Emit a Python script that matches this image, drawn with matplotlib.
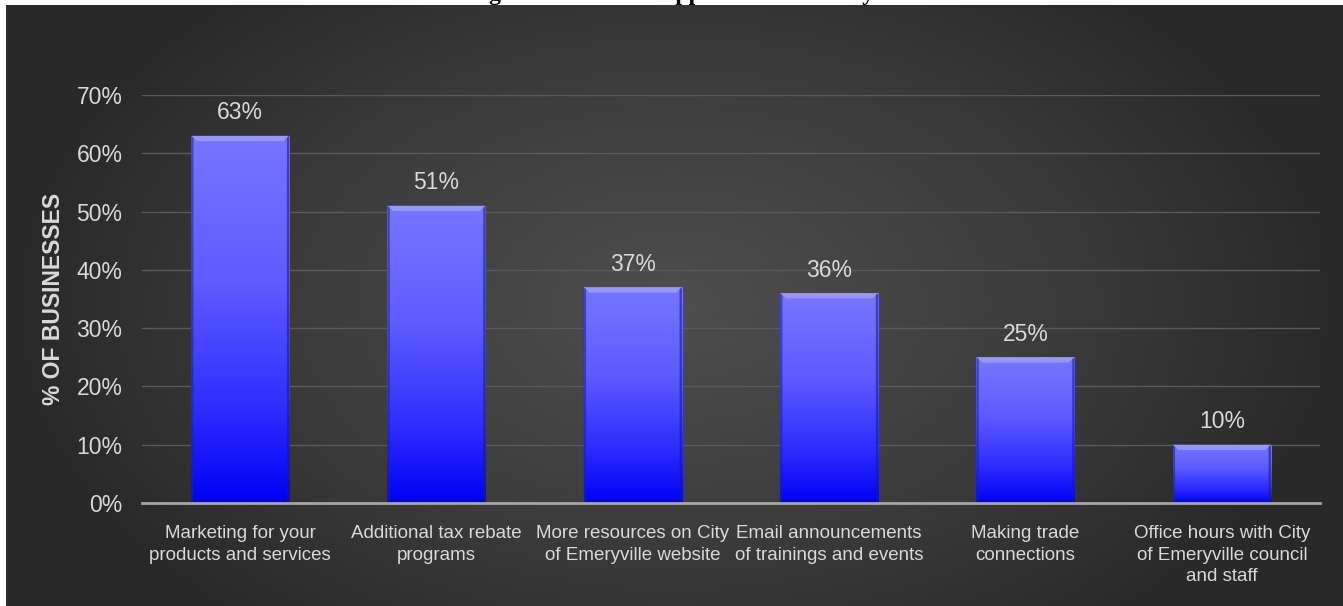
import matplotlib.pyplot as plt
from matplotlib.patches import Polygon
from matplotlib.colors import LinearSegmentedColormap
import numpy as np

categories = [
    "Marketing for your\nproducts and services",
    "Additional tax rebate\nprograms",
    "More resources on City\nof Emeryville website",
    "Email announcements\nof trainings and events",
    "Making trade\nconnections",
    "Office hours with City\nof Emeryville council\nand staff",
]
values = [63, 51, 37, 36, 25, 10]
yticks = [0, 10, 20, 30, 40, 50, 60, 70]
title = "Figure 3: Desired Support from the City"

W, H = 1343, 606
fig = plt.figure(figsize=(W / 100, H / 100), dpi=100)
fig.patch.set_facecolor("white")
plt.rcParams["font.family"] = ["Liberation Sans", "DejaVu Sans"]

# dark radial background panel
bg = fig.add_axes([6 / W, 0, 1 - 6 / W, (H - 5) / H])
bg.set_axis_off()
gx, gy = np.meshgrid(np.linspace(-1, 1, 400), np.linspace(-1, 1, 200))
r = np.clip(np.sqrt((gx / 1.0) ** 2 + (gy / 1.4) ** 2), 0, 1)
bg_cmap = LinearSegmentedColormap.from_list("bg", ["#4e4e4e", "#3e3e3e", "#292929"])
bg.imshow(r, cmap=bg_cmap, aspect="auto", extent=[0, 1, 0, 1], vmin=0, vmax=1)
bg.set_xlim(0, 1)
bg.set_ylim(0, 1)

# heading sits above the page edge, only descenders show
fig.text(0.5, 1.0, title, ha="center", va="baseline",
         family="Liberation Serif", weight="bold", fontsize=17, color="black", zorder=10)

ax = fig.add_axes([142 / W, (H - 503) / H, (1320 - 142) / W, (503 - 95) / H])
ax.patch.set_alpha(0)
x = np.arange(len(values))
bars = ax.bar(x, values, width=0.5, facecolor="none", edgecolor="none", zorder=3)

bar_cmap = LinearSegmentedColormap.from_list(
    "bar", [(0, "#0000f6"), (0.25, "#2c2cff"), (0.6, "#5c5cff"), (1, "#7676ff")])
grad = np.linspace(0, 1, 256).reshape(-1, 1)
for b, v in zip(bars, values):
    x0, w = b.get_x(), b.get_width()
    im = ax.imshow(grad, cmap=bar_cmap, origin="lower", aspect="auto",
                   extent=[x0, x0 + w, 0, v], zorder=3)
    im.set_clip_path(b)
    # bevel on top and sides
    bh = 0.9
    bw = 0.03
    ax.add_patch(Polygon([[x0, v], [x0 + w, v], [x0 + w - bw, v - bh], [x0 + bw, v - bh]],
                         closed=True, facecolor="#a0a0ff", edgecolor="none", alpha=0.8, zorder=4))
    ax.add_patch(Polygon([[x0, 0], [x0 + 0.012, 0], [x0 + 0.012, v - 0.3], [x0, v]],
                         closed=True, facecolor="#2020a0", edgecolor="none", alpha=0.6, zorder=4))
    ax.add_patch(Polygon([[x0 + w - 0.012, 0], [x0 + w, 0], [x0 + w, v], [x0 + w - 0.012, v - 0.3]],
                         closed=True, facecolor="#1a1a90", edgecolor="none", alpha=0.6, zorder=4))
    ax.text(x0 + w / 2, v + 2.0, f"{v}%", ha="center", va="bottom",
            fontsize=16.5, color="#d9d9d9", zorder=5, clip_on=False)

ax.set_xlim(-0.5, len(values) - 0.5)
ax.set_ylim(0, 70)
ax.set_yticks(yticks)
ax.set_yticklabels([f"{t}%" for t in yticks])
ax.set_xticks(x)
ax.set_xticklabels(categories, fontsize=13.5, color="#d9d9d9", linespacing=1.35)
ax.tick_params(axis="y", length=0, pad=14, labelsize=16.5, labelcolor="#d9d9d9")
ax.tick_params(axis="x", length=0, pad=16)
ax.grid(axis="y", color="#5a5a5a", linewidth=1, zorder=1)
for s in ["top", "right", "left"]:
    ax.spines[s].set_visible(False)
ax.spines["bottom"].set_color("#a6a6a6")
ax.spines["bottom"].set_linewidth(2)
ax.spines["bottom"].set_zorder(5)

ax.set_ylabel("% OF BUSINESSES", fontsize=16.5, weight="bold", color="#d9d9d9", labelpad=8)

fig.savefig("out.png", dpi=100)
